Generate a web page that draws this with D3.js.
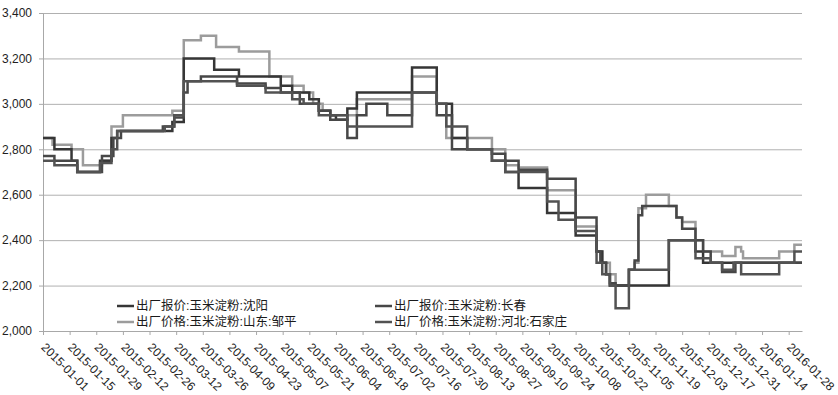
<!DOCTYPE html>
<html>
<head>
<meta charset="utf-8">
<script src="https://cdn.jsdelivr.net/npm/d3@7"></script>
<style>
    body { margin: 0; background: #fff; }
    svg { display: block; font-family: "Liberation Sans", Arial, "Noto Sans CJK SC", sans-serif; }
    .axis text { fill: #1e1e1e; font-size: 12px; }
    .axis path, .axis line { stroke: #a8a8a8; }
    .grid line { stroke: #b0b0b0; }
    .grid path { display: none; }
    .legend text { font-family: "Liberation Sans", "Noto Sans CJK SC", sans-serif; font-size: 12.5px; fill: #1a1a1a; }
</style>
</head>
<body>
<script>
"use strict";

const WIDTH = 838;
const HEIGHT = 395;
const LEFT = 43;
const RIGHT = 802;
const TOP = 13;
const BOTTOM = 331;

const X_START = "2015-01-01";
const X_END = "2016-02-04";

const Y_TICKS = [2000, 2200, 2400, 2600, 2800, 3000, 3200, 3400];

const TICK_LABELS = ["2015-01-01", "2015-01-15", "2015-01-29", "2015-02-12", "2015-02-26", "2015-03-12",
    "2015-03-26", "2015-04-09", "2015-04-23", "2015-05-07", "2015-05-21", "2015-06-04", "2015-06-18",
    "2015-07-02", "2015-07-16", "2015-07-30", "2015-08-13", "2015-08-27", "2015-09-10", "2015-09-24",
    "2015-10-08", "2015-10-22", "2015-11-05", "2015-11-19", "2015-12-03", "2015-12-17", "2015-12-31",
    "2016-01-14", "2016-01-28"];

const SERIES_NAMES = ["出厂报价:玉米淀粉:沈阳", "出厂报价:玉米淀粉:长春", "出厂价格:玉米淀粉:山东:邹平", "出厂价格:玉米淀粉:河北:石家庄"];

// price change points, each value holds until the next date
const shenyang = [
    ["2015-01-01", 2850], ["2015-01-07", 2800], ["2015-01-16", 2750], ["2015-01-19", 2700],
    ["2015-01-31", 2750], ["2015-02-06", 2850], ["2015-02-09", 2880], ["2015-03-10", 2920],
    ["2015-03-16", 3200], ["2015-04-01", 3150], ["2015-04-14", 3120], ["2015-05-06", 3080],
    ["2015-05-12", 3050], ["2015-05-21", 3020], ["2015-05-26", 2970], ["2015-06-01", 2950],
    ["2015-06-04", 2930], ["2015-06-10", 2980], ["2015-06-15", 3050], ["2015-07-14", 3160],
    ["2015-07-27", 3000], ["2015-08-04", 2850], ["2015-08-12", 2800], ["2015-08-25", 2750],
    ["2015-09-01", 2700], ["2015-09-08", 2630], ["2015-09-23", 2520], ["2015-10-08", 2420],
    ["2015-10-19", 2350], ["2015-10-22", 2300], ["2015-10-24", 2250], ["2015-10-26", 2200],
    ["2015-11-26", 2400], ["2015-12-10", 2350], ["2015-12-14", 2300], ["2016-02-04", 2300]
];

const changchun = [
    ["2015-01-01", 2770], ["2015-01-07", 2750], ["2015-01-19", 2700], ["2015-02-01", 2770],
    ["2015-02-07", 2850], ["2015-02-11", 2880], ["2015-03-05", 2900], ["2015-03-11", 2940],
    ["2015-03-16", 3050], ["2015-03-18", 3100], ["2015-03-25", 3120], ["2015-04-13", 3090],
    ["2015-04-28", 3070], ["2015-05-06", 3050], ["2015-05-16", 3000], ["2015-05-26", 2970],
    ["2015-06-01", 2930], ["2015-06-10", 2850], ["2015-06-15", 2950], ["2015-06-20", 3000],
    ["2015-07-01", 2950], ["2015-07-14", 3050], ["2015-07-27", 2950], ["2015-08-04", 2800],
    ["2015-08-25", 2780], ["2015-09-01", 2750], ["2015-09-08", 2710], ["2015-09-23", 2670],
    ["2015-10-08", 2500], ["2015-10-19", 2350], ["2015-10-21", 2300], ["2015-10-24", 2250],
    ["2015-10-26", 2210], ["2015-10-29", 2200], ["2015-11-05", 2270], ["2015-11-08", 2310],
    ["2015-11-10", 2510], ["2015-11-12", 2550], ["2015-11-30", 2500], ["2015-12-03", 2450],
    ["2015-12-10", 2400], ["2015-12-14", 2350], ["2015-12-18", 2300], ["2015-12-24", 2260],
    ["2015-12-31", 2300], ["2016-02-04", 2300]
];

const zouping = [
    ["2015-01-01", 2850], ["2015-01-06", 2820], ["2015-01-16", 2800], ["2015-01-22", 2730],
    ["2015-02-01", 2750], ["2015-02-06", 2900], ["2015-02-12", 2950], ["2015-03-10", 2970],
    ["2015-03-16", 3280], ["2015-03-25", 3300], ["2015-04-02", 3250], ["2015-04-14", 3230],
    ["2015-04-30", 3120], ["2015-05-12", 3080], ["2015-05-18", 3050], ["2015-05-23", 3000],
    ["2015-05-28", 2970], ["2015-06-01", 2950], ["2015-06-15", 3020], ["2015-07-14", 3120],
    ["2015-07-27", 3000], ["2015-08-01", 2850], ["2015-08-25", 2800], ["2015-09-01", 2730],
    ["2015-09-08", 2720], ["2015-09-23", 2620], ["2015-10-08", 2460], ["2015-10-19", 2350],
    ["2015-10-22", 2300], ["2015-10-26", 2250], ["2015-10-29", 2200], ["2015-11-05", 2270],
    ["2015-11-08", 2300], ["2015-11-10", 2540], ["2015-11-14", 2600], ["2015-11-26", 2550],
    ["2015-11-30", 2500], ["2015-12-03", 2480], ["2015-12-10", 2400], ["2015-12-14", 2350],
    ["2015-12-24", 2330], ["2015-12-31", 2370], ["2016-01-03", 2350], ["2016-01-04", 2320],
    ["2016-01-23", 2350], ["2016-01-31", 2380], ["2016-02-04", 2380]
];

const shijiazhuang = [
    ["2015-01-01", 2750], ["2015-01-07", 2730], ["2015-01-19", 2700], ["2015-01-31", 2740],
    ["2015-02-06", 2800], ["2015-02-09", 2880], ["2015-03-06", 2900], ["2015-03-11", 2950],
    ["2015-03-16", 3100], ["2015-04-13", 3080], ["2015-04-28", 3050], ["2015-05-12", 3020],
    ["2015-05-18", 3000], ["2015-05-26", 2950], ["2015-06-10", 2900], ["2015-07-14", 3050],
    ["2015-07-27", 3000], ["2015-08-01", 2900], ["2015-08-12", 2800], ["2015-08-25", 2750],
    ["2015-09-01", 2700], ["2015-09-23", 2570], ["2015-09-29", 2490], ["2015-10-08", 2440],
    ["2015-10-19", 2300], ["2015-10-22", 2250], ["2015-10-26", 2200], ["2015-10-29", 2100],
    ["2015-11-05", 2270], ["2015-11-26", 2400], ["2015-12-10", 2320], ["2015-12-18", 2300],
    ["2015-12-24", 2270], ["2015-12-30", 2300], ["2016-01-03", 2250], ["2016-01-23", 2300],
    ["2016-01-31", 2350], ["2016-02-04", 2350]
];

const SERIES_COLORS = ["#363636", "#474747", "#9c9c9c", "#525252"];

const TIME_CONV = d3.timeParse("%Y-%m-%d");

const SVG = d3.select("body").append("svg")
    .attr("width", WIDTH)
    .attr("height", HEIGHT);

document.addEventListener("DOMContentLoaded", init);

function init() {
    const { xScale, yScale } = defineScales();
    drawGrid(yScale);
    drawAxises(xScale, yScale);
    drawLines(xScale, yScale);
    drawLegend();
}

function defineScales() {
    const xScale = d3.scaleTime()
        .domain([TIME_CONV(X_START), TIME_CONV(X_END)])
        .range([LEFT, RIGHT]);

    const yScale = d3.scaleLinear()
        .domain([Y_TICKS[0], Y_TICKS[Y_TICKS.length - 1]])
        .range([BOTTOM, TOP]);
    return { xScale, yScale };
}

function drawGrid(yScale) {
    SVG.append("g")
        .attr("class", "grid")
        .attr("transform", `translate(${LEFT}, 0)`)
        .call(d3.axisLeft(yScale).tickValues(Y_TICKS.slice(1)).tickSize(-(RIGHT - LEFT)).tickFormat(""));
}

function drawAxises(xScale, yScale) {
    SVG.append("g")
        .attr("class", "axis")
        .attr("transform", `translate(${LEFT}, 0)`)
        .call(d3.axisLeft(yScale).tickValues(Y_TICKS).tickSize(4).tickPadding(7).tickSizeOuter(0).tickFormat(d3.format(",")));

    const xaxis = SVG.append("g")
        .attr("class", "axis")
        .attr("transform", `translate(0, ${BOTTOM})`)
        .call(d3.axisBottom(xScale)
            .tickValues(TICK_LABELS.map(TIME_CONV))
            .tickSize(4)
            .tickSizeOuter(0)
            .tickFormat(d3.timeFormat("%Y-%m-%d")));

    xaxis.selectAll("text")
        .attr("x", 0)
        .attr("y", 0)
        .attr("dy", 0)
        .attr("transform", "translate(-3, 17) rotate(45)")
        .style("text-anchor", "start");
}

function drawLines(xScale, yScale) {
    const line = d3.line()
        .curve(d3.curveStepAfter)
        .x(d => xScale(TIME_CONV(d[0])))
        .y(d => yScale(d[1]));

    const all = [shenyang, changchun, zouping, shijiazhuang];
    const order = [2, 0, 1, 3];

    const lines = SVG.append("g");
    order.forEach(function (i) {
        lines.append("path")
            .attr("d", line(all[i]))
            .attr("fill", "none")
            .attr("stroke", SERIES_COLORS[i])
            .attr("stroke-width", 2.5)
            .attr("stroke-linejoin", "miter");
    });
}

function drawLegend() {
    const spots = [[117, 306], [375, 306], [117, 322], [375, 322]];
    const legend = SVG.append("g").attr("class", "legend");

    SERIES_NAMES.forEach(function (name, i) {
        const [lx, ly] = spots[i];
        legend.append("line")
            .attr("x1", lx)
            .attr("x2", lx + 17)
            .attr("y1", ly)
            .attr("y2", ly)
            .attr("stroke", SERIES_COLORS[i])
            .attr("stroke-width", 2.5);

        legend.append("text")
            .attr("x", lx + 19)
            .attr("y", ly)
            .attr("dy", "0.35em")
            .text(name);
    });
}
</script>
</body>
</html>
